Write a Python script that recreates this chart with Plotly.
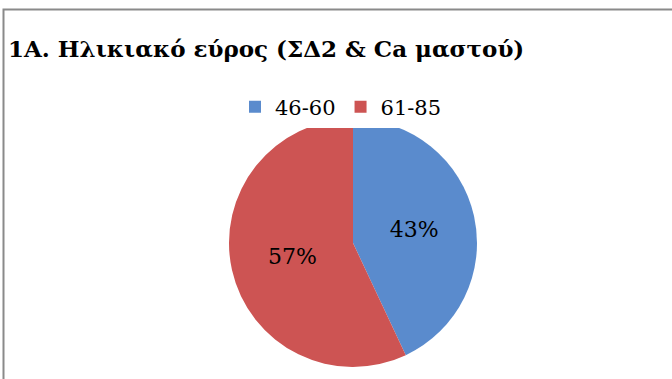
import plotly.graph_objects as go

categories = ["46-60", "61-85"]
values = [43, 57]
colors = ["#5A8BCD", "#CD5453"]

W, H = 672, 379
cx, cy, r = 353, 243, 124
SERIF = "DejaVu Serif"

fig = go.Figure(go.Pie(
    labels=categories,
    values=values,
    sort=False,
    direction="clockwise",
    rotation=0,
    marker=dict(colors=colors, line=dict(width=0)),
    textinfo="percent",
    texttemplate="%{percent:.0%}",
    insidetextorientation="horizontal",
    textfont=dict(family=SERIF, size=22, color="#000000"),
    hoverinfo="label+percent",
    domain=dict(x=[(cx - r) / W, (cx + r) / W], y=[(H - cy - r) / H, (H - cy + r) / H]),
))

fig.update_layout(
    width=W, height=H,
    margin=dict(l=0, r=0, t=0, b=0),
    paper_bgcolor="white",
    plot_bgcolor="white",
    font=dict(family=SERIF, color="#000000"),
    title=dict(
        text="<b>1A. Ηλικιακό εύρος (ΣΔ2 & Ca μαστού)</b>",
        font=dict(family=SERIF, size=23, color="#000000"),
        x=8 / W, xanchor="left", xref="paper",
        y=1 - 49 / H, yanchor="middle", yref="container",
    ),
    showlegend=True,
    legend=dict(
        orientation="h",
        x=341 / W, xanchor="center",
        y=1 - 107 / H, yanchor="middle",
        font=dict(family=SERIF, size=21, color="#000000"),
        itemwidth=30,
        traceorder="normal",
    ),
    shapes=[dict(
        type="rect", xref="paper", yref="paper",
        x0=3.5 / W, x1=1.05, y0=-0.05, y1=1 - 9.5 / H,
        line=dict(color="#8A8A8A", width=2), fillcolor="rgba(0,0,0,0)",
        layer="above",
    )],
)

fig.write_html("out.html")
